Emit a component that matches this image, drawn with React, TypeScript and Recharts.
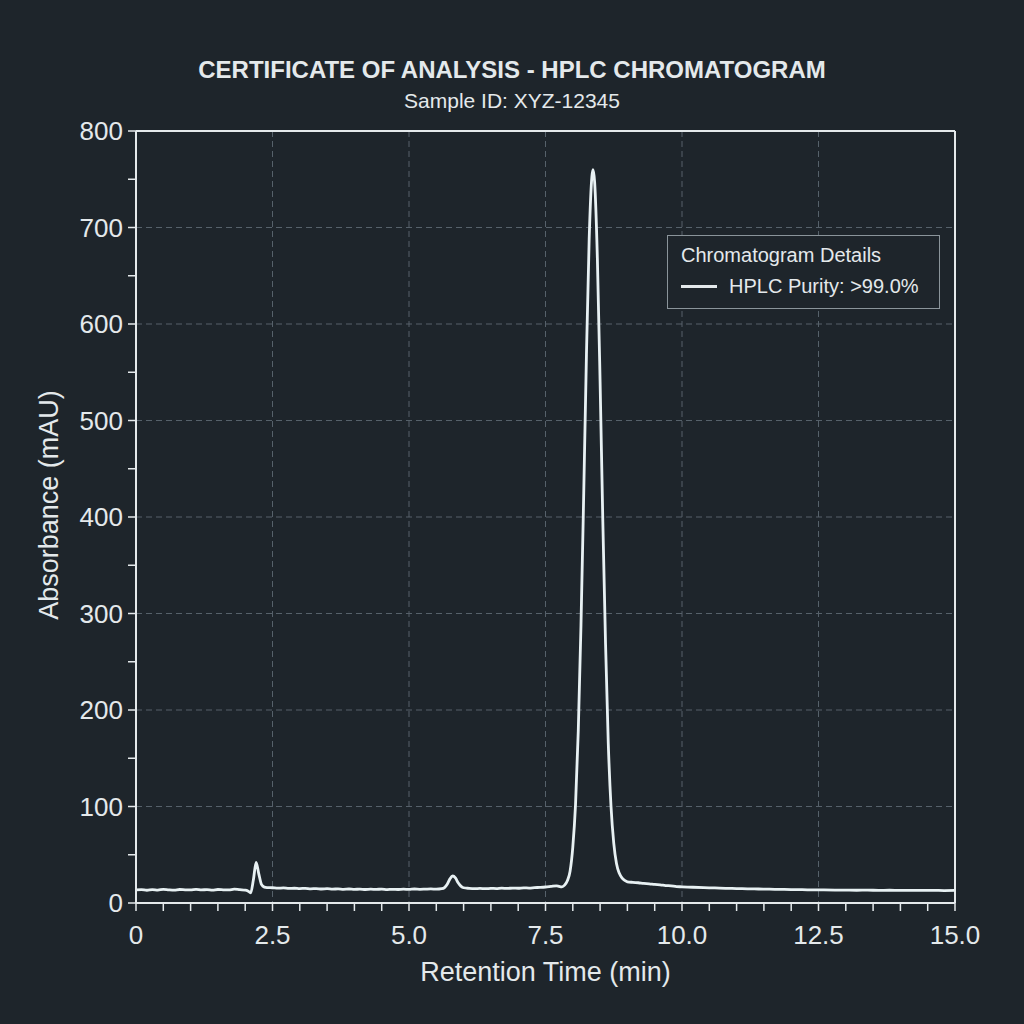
import React from 'react';
import {
  LineChart,
  Line,
  XAxis,
  YAxis,
  CartesianGrid,
  Legend,
  ReferenceLine,
} from 'recharts';

// Retention times (min) and absorbance (mAU)
const retentionTime = [
  0.0, 0.1, 0.2, 0.3, 0.4, 0.5, 0.6, 0.7, 0.8, 0.9, 1.0, 1.1, 1.2, 1.3, 1.4, 1.5, 1.6, 1.7, 1.8, 1.9, 2.0,
  2.05, 2.1, 2.15, 2.2, 2.25, 2.3, 2.35, 2.4,
  2.5, 2.6, 2.7, 2.8, 2.9, 3.0, 3.1, 3.2, 3.3, 3.4, 3.5, 3.6, 3.7, 3.8, 3.9, 4.0, 4.1, 4.2, 4.3, 4.4, 4.5,
  4.6, 4.7, 4.8, 4.9, 5.0, 5.1, 5.2, 5.3, 5.4, 5.5,
  5.6, 5.65, 5.7, 5.75, 5.8, 5.85, 5.9, 5.95, 6.0,
  6.1, 6.2, 6.3, 6.4, 6.5, 6.6, 6.7, 6.8, 6.9, 7.0, 7.1, 7.2, 7.3, 7.4, 7.5, 7.6, 7.7,
  7.75, 7.8, 7.85, 7.9, 7.95, 8.0, 8.05, 8.1, 8.15, 8.2, 8.25, 8.3, 8.35, 8.37, 8.4, 8.45, 8.5, 8.55,
  8.6, 8.65, 8.7, 8.75, 8.8, 8.85, 8.9, 8.95, 9.0,
  9.1, 9.2, 9.3, 9.4, 9.5, 9.6, 9.7, 9.8, 9.9, 10.0,
  10.2, 10.4, 10.6, 10.8, 11.0, 11.2, 11.4, 11.6, 11.8, 12.0, 12.2, 12.4, 12.6, 12.8, 13.0, 13.2, 13.4,
  13.6, 13.8, 14.0, 14.2, 14.4, 14.6, 14.8, 15.0,
];

const absorbance = [
  13.5, 13.8, 13.2, 13.9, 13.4, 14.1, 13.6, 13.3, 14.0, 13.7, 13.5, 14.2, 13.6, 13.9, 13.4, 14.0, 13.7, 13.5, 14.3, 13.8, 13.4,
  12.5, 10.5, 24, 42, 30, 19, 16.5, 16,
  15.8, 15.4, 15.6, 15.1, 15.3, 14.9, 15.2, 14.7, 14.9, 14.5, 14.8, 14.4, 14.6, 14.2, 14.5, 14.1, 14.4, 14.0, 14.3, 14.1, 14.4,
  13.9, 14.2, 14.0, 14.3, 14.1, 14.5, 14.2, 14.4, 14.6, 14.3,
  14.8, 16, 19.5, 25, 28, 26, 21, 17.5, 15.8,
  15.2, 14.9, 15.1, 14.8, 15.2, 15.0, 15.4, 15.1, 15.5, 15.3, 15.7, 15.5, 15.9, 16.2, 16.6, 17.2, 17.8,
  17.2, 16.8, 18.5, 23, 33, 58, 102, 178, 288, 424, 568, 688, 753, 760, 747, 668, 540, 395,
  268, 165, 100, 62, 41, 31, 26, 23.5, 22,
  21.4, 21.0, 20.3, 19.9, 19.2, 18.8, 18.1, 17.7, 17.0, 16.8,
  16.3, 15.9, 15.6, 15.2, 15.0, 14.7, 14.5, 14.3, 14.1, 13.9, 13.8, 13.6, 13.5, 13.4, 13.3, 13.2, 13.3,
  13.1, 13.2, 13.0, 13.1, 13.0, 13.1, 12.9, 13.0,
];

const xTicks = [
  0, 0.5, 1, 1.5, 2, 2.5, 3, 3.5, 4, 4.5, 5, 5.5, 6, 6.5, 7, 7.5, 8, 8.5, 9, 9.5, 10, 10.5, 11, 11.5,
  12, 12.5, 13, 13.5, 14, 14.5, 15,
];
const xMajor = [0, 2.5, 5, 7.5, 10, 12.5, 15];
const yTicks = [0, 50, 100, 150, 200, 250, 300, 350, 400, 450, 500, 550, 600, 650, 700, 750, 800];
const yMajor = [0, 100, 200, 300, 400, 500, 600, 700, 800];

const data = retentionTime.map((t, i) => ({ t, v: absorbance[i] }));

const BG = '#1e252b';
const FG = '#e4e9eb';
const GRID = '#56616a';
const FONT = '"Liberation Sans", Arial, sans-serif';

const XTick = (props: any) => {
  const { x, y, payload } = props;
  const v = payload.value;
  if (!xMajor.includes(v)) return <g />;
  const label = v === 0 ? '0' : v.toFixed(1);
  return (
    <text x={x} y={y + 31} textAnchor="middle" fill={FG} fontSize={26} fontFamily={FONT}>
      {label}
    </text>
  );
};

const YTick = (props: any) => {
  const { x, y, payload } = props;
  const v = payload.value;
  if (!yMajor.includes(v)) return <g />;
  return (
    <text x={x - 3} y={y + 9} textAnchor="end" fill={FG} fontSize={26} fontFamily={FONT}>
      {v}
    </text>
  );
};

const renderLegend = () => (
  <div
    style={{
      border: '1px solid #8a949a',
      background: BG,
      width: 273,
      height: 74,
      boxSizing: 'border-box',
      padding: '6px 0 0 13px',
      fontFamily: FONT,
      color: FG,
      whiteSpace: 'nowrap',
    }}
  >
    <div style={{ fontSize: 20, lineHeight: '26px' }}>Chromatogram Details</div>
    <div style={{ display: 'flex', alignItems: 'center', marginTop: 6, fontSize: 20, lineHeight: '24px' }}>
      <span style={{ display: 'inline-block', width: 36, height: 3, background: FG, marginRight: 12 }} />
      HPLC Purity: &gt;99.0%
    </div>
  </div>
);

export default function App() {
  return (
    <div
      style={{
        position: 'fixed',
        left: 0,
        top: 0,
        width: 1024,
        height: 1024,
        background: BG,
        fontFamily: FONT,
      }}
    >
      <div
        style={{
          position: 'absolute',
          top: 56,
          width: 1024,
          textAlign: 'center',
          color: FG,
          fontSize: 24,
          fontWeight: 'bold',
        }}
      >
        CERTIFICATE OF ANALYSIS - HPLC CHROMATOGRAM
      </div>
      <div
        style={{
          position: 'absolute',
          top: 89,
          width: 1024,
          textAlign: 'center',
          color: FG,
          fontSize: 21,
        }}
      >
        Sample ID: XYZ-12345
      </div>
      <div
        style={{
          position: 'absolute',
          top: 957,
          left: 136,
          width: 819,
          textAlign: 'center',
          color: FG,
          fontSize: 27,
        }}
      >
        Retention Time (min)
      </div>
      <div
        style={{
          position: 'absolute',
          left: 49,
          top: 505,
          width: 0,
          height: 0,
        }}
      >
        <div
          style={{
            position: 'absolute',
            transform: 'translate(-50%, -50%) rotate(-90deg)',
            whiteSpace: 'nowrap',
            color: FG,
            fontSize: 27,
          }}
        >
          Absorbance (mAU)
        </div>
      </div>
      <LineChart
        width={1024}
        height={1024}
        data={data}
        margin={{ top: 131, right: 69, bottom: 17, left: 50 }}
      >
        <CartesianGrid
          stroke={GRID}
          strokeDasharray="6 4"
          horizontalValues={yMajor}
          verticalValues={xMajor}
        />
        <XAxis
          dataKey="t"
          type="number"
          domain={[0, 15]}
          ticks={xTicks}
          interval={0}
          height={30}
          tick={XTick}
          tickSize={8}
          axisLine={{ stroke: FG, strokeWidth: 2 }}
          tickLine={{ stroke: FG, strokeWidth: 1.5 }}
        />
        <YAxis
          type="number"
          domain={[0, 800]}
          ticks={yTicks}
          interval={0}
          width={86}
          tick={YTick}
          tickSize={8}
          axisLine={{ stroke: FG, strokeWidth: 2 }}
          tickLine={{ stroke: FG, strokeWidth: 1.5 }}
        />
        <ReferenceLine y={800} stroke={FG} strokeWidth={2} />
        <ReferenceLine x={15} stroke={FG} strokeWidth={2} />
        <Legend
          content={renderLegend}
          wrapperStyle={{ position: 'absolute', left: 667, top: 235, width: 273 }}
        />
        <Line
          type="monotone"
          dataKey="v"
          stroke="#e8f1f3"
          strokeWidth={2.8}
          dot={false}
          isAnimationActive={false}
        />
      </LineChart>
    </div>
  );
}
